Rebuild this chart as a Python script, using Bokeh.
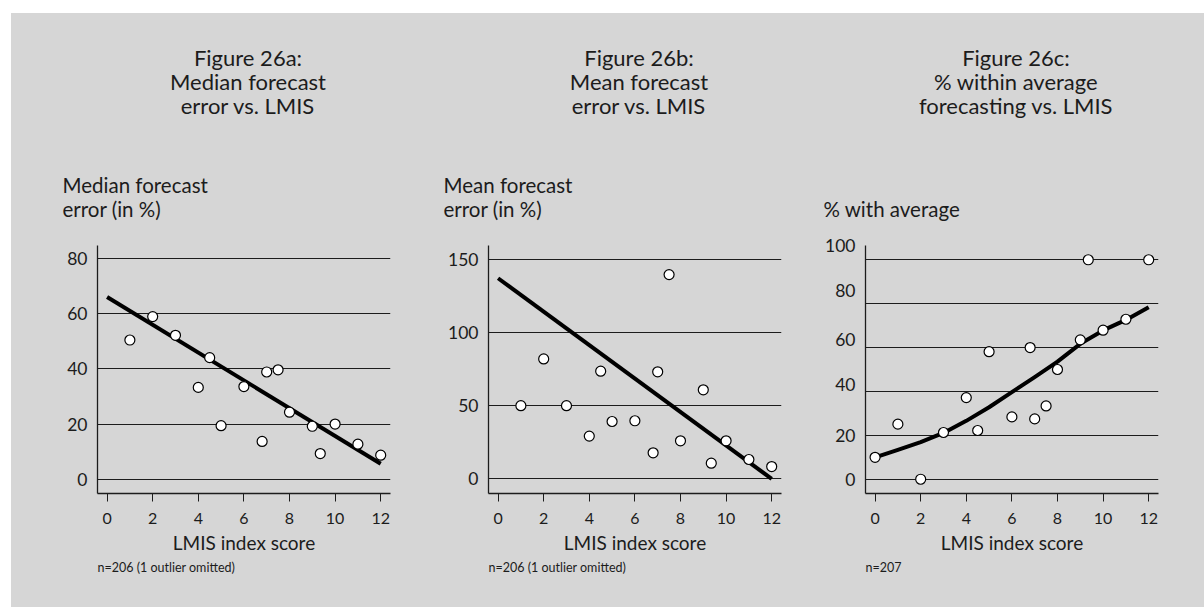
from bokeh.plotting import figure
from bokeh.layouts import row, column
from bokeh.models import FixedTicker, Range1d
from bokeh.core.properties import value
from bokeh.embed import file_html
from bokeh.resources import INLINE

# LMIS index score of each group (figures 26a and 26b)
lmis_ab = [1, 2, 3, 4, 4.5, 5, 6, 6.8, 7, 7.5, 8, 9, 9.35, 10, 11, 12]
median_err = [50.5, 59, 52.2, 33.3, 44.1, 19.4, 33.6, 13.7, 38.9, 39.7, 24.3, 19.2, 9.3, 20.0, 12.7, 8.7]
mean_err = [50, 82, 50, 29.2, 73.6, 39.2, 39.7, 17.8, 73.2, 139.7, 26, 60.9, 10.7, 26, 13.2, 8.4]

# LMIS index score of each group (figure 26c)
lmis_c = [0, 1, 2, 3, 4, 4.5, 5, 6, 6.8, 7, 7.5, 8, 9, 9.35, 10, 11, 12]
pct_within = [10, 25.1, 0, 21.3, 37.2, 22.2, 58.1, 28.4, 60, 27.5, 33.4, 50, 63.5, 100, 67.9, 72.9, 100]

# fitted trends
fit_x = [0, 12]
median_fit = [66.1, 5.6]
mean_fit = [137.2, 0.0]
curve_x = [0, 1, 2, 3, 4, 5, 6, 7, 8, 9, 10, 11, 12]
pct_curve = [10, 13.4, 16.9, 21.1, 26.6, 32.8, 39.7, 46.5, 53.6, 61.7, 67.8, 72.6, 78.4]

x_ticks = [0, 2, 4, 6, 8, 10, 12]
median_ticks = [0, 20, 40, 60, 80]
mean_ticks = [0, 50, 100, 150]
pct_grid = [0, 20, 40, 60, 80, 100]
pct_labels = ["0", "20", "40", "60", "80", "100"]
# the printed scale labels of 26c sit slightly above their rules
pct_label_at = [0, 19.8, 43.1, 63.5, 86.0, 106.3]

titles = [
    ["Figure 26a:", "Median forecast", "error vs. LMIS"],
    ["Figure 26b:", "Mean forecast", "error vs. LMIS"],
    ["Figure 26c:", "% within average", "forecasting vs. LMIS"],
]
y_titles = [
    ["Median forecast", "error (in %)"],
    ["Mean forecast", "error (in %)"],
    ["% with average"],
]
notes = ["n=206 (1 outlier omitted)", "n=206 (1 outlier omitted)", "n=207"]

BG = "#d6d6d6"
INK = "#1c1c1c"
FONT = "Lato"

TOTAL_W = 1193
TOP_H = 212      # strip holding the headings
PLOT_H = 335     # axes area
NOTE_H = 47      # strip holding the sample-size notes
FRAME_W = 293

# column widths and the room left/right of each axes frame
widths = [429, 380, 384]
left_b = [86, 48, 45]
right_b = [50, 39, 46]
col_x = [0, 429, 809]
ytitle_dx = [-35, -45, -42]


def strip(height):
    s = figure(width=TOTAL_W, height=height,
               x_range=Range1d(0, TOTAL_W), y_range=Range1d(height, 0),
               x_axis_type=None, y_axis_type=None,
               output_backend="svg", toolbar_location=None,
               min_border=0, min_border_left=0, min_border_right=0,
               min_border_top=0, min_border_bottom=0,
               background_fill_color=BG, border_fill_color=BG,
               outline_line_color=None)
    s.grid.visible = False
    return s


head = strip(TOP_H)
foot = strip(NOTE_H)
for k in range(3):
    fx = col_x[k] + left_b[k]
    head.text(x=[fx + FRAME_W / 2 + 4] * 3, y=[44, 68, 92], text=titles[k],
              text_font=value(FONT), text_font_size=value("22px"),
              text_align="center", text_baseline="middle", text_color=INK)
    lines = y_titles[k]
    ys = [171, 195][-len(lines):]
    head.text(x=[fx + ytitle_dx[k]] * len(lines), y=ys, text=lines,
              text_font=value(FONT), text_font_size=value("20.5px"),
              text_align="left", text_baseline="middle", text_color=INK)
    foot.text(x=[fx], y=[7], text=[notes[k]],
              text_font=value(FONT), text_font_size=value("12.5px"),
              text_align="left", text_baseline="middle", text_color=INK)


def panel(width, bl, br, y_lo, y_hi, grid_ticks):
    p = figure(width=width, height=PLOT_H,
               x_range=Range1d(-0.42, 12.43), y_range=Range1d(y_lo, y_hi),
               output_backend="svg", toolbar_location=None,
               min_border_left=bl, min_border_right=br,
               min_border_top=20, min_border_bottom=67,
               background_fill_color=BG, border_fill_color=BG,
               outline_line_color=None)
    p.xgrid.visible = False
    p.ygrid.ticker = FixedTicker(ticks=grid_ticks)
    p.ygrid.grid_line_color = INK
    p.ygrid.grid_line_width = 1

    p.xaxis.ticker = FixedTicker(ticks=x_ticks)
    p.xaxis.axis_label = "LMIS index score"
    p.xaxis.axis_label_text_font = FONT
    p.xaxis.axis_label_text_font_size = "19px"
    p.xaxis.axis_label_text_font_style = "normal"
    p.xaxis.axis_label_text_color = INK
    p.xaxis.axis_label_standoff = 4
    p.xaxis.major_tick_in = 0
    p.xaxis.major_tick_out = 8
    p.xaxis.major_tick_line_color = INK
    p.xaxis.major_label_standoff = 11
    p.xaxis.major_label_text_font_size = "16px"

    p.yaxis.major_tick_line_color = None
    p.yaxis.major_tick_out = 0
    p.yaxis.major_tick_in = 0
    p.yaxis.major_label_standoff = 10
    p.yaxis.major_label_text_font_size = "17.5px"

    for ax in (p.xaxis, p.yaxis):
        ax.axis_line_color = INK
        ax.axis_line_width = 1.3
        ax.minor_tick_line_color = None
        ax.major_label_text_font = FONT
        ax.major_label_text_color = INK
    return p


pa = panel(widths[0], left_b[0], right_b[0], -5.2, 84.8, median_ticks)
pa.yaxis.ticker = FixedTicker(ticks=median_ticks)
pa.line(fit_x, median_fit, line_color="black", line_width=4)
pa.scatter(lmis_ab, median_err, size=10, fill_color="white", line_color="black", line_width=1.2)

pb = panel(widths[1], left_b[1], right_b[1], -10.05, 159.6, mean_ticks)
pb.yaxis.ticker = FixedTicker(ticks=mean_ticks)
pb.line(fit_x, mean_fit, line_color="black", line_width=4)
pb.scatter(lmis_ab, mean_err, size=10, fill_color="white", line_color="black", line_width=1.2)

pc = panel(widths[2], left_b[2], right_b[2], -6.5, 106.5, pct_grid)
pc.yaxis.ticker = FixedTicker(ticks=pct_label_at)
pc.yaxis.major_label_overrides = dict(zip(pct_label_at, pct_labels))
pc.line(curve_x, pct_curve, line_color="black", line_width=4, line_join="round")
pc.scatter(lmis_c, pct_within, size=10, fill_color="white", line_color="black", line_width=1.2)

layout = column(head, row(pa, pb, pc, spacing=0), foot, spacing=0,
                margin=(13, 0, 0, 11), styles={"background-color": BG})
open("out.html", "w").write(file_html(layout, INLINE))
